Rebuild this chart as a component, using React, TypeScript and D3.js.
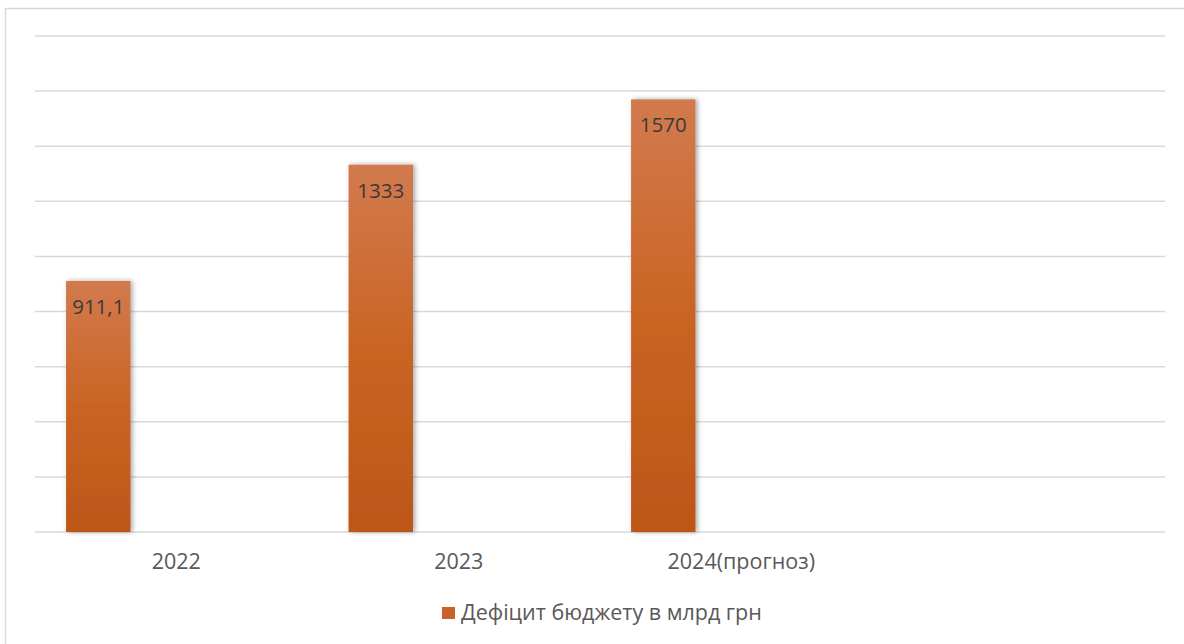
import React from "react";
import * as d3 from "d3";

const categories = ["2022", "2023", "2024(прогноз)", ""];
const values: (number | null)[] = [911.1, 1333, 1570, null];
const valueLabels = ["911,1", "1333", "1570", ""];
const seriesName = "Дефіцит бюджету в млрд грн";
const yTicks = [0, 200, 400, 600, 800, 1000, 1200, 1400, 1600, 1800];

const W = 1184;
const H = 644;
const left = 35;
const right = 1165;
const top = 36;
const bottom = 532;
const FONT = "'Open Sans', sans-serif";

export default function App() {
  const x = d3.scaleBand<string>().domain(categories.map((c, i) => String(i))).range([left, right]).padding(0);
  const y = d3.scaleLinear().domain([0, 1800]).range([bottom, top]);
  const bw = x.bandwidth();
  const barOff = bw * 0.11;
  const barW = bw * 0.228;

  return (
    <svg width={W} height={H} style={{ position: "absolute", left: 0, top: 0, background: "#fff" }}>
      <defs>
        <linearGradient id="barGrad" x1="0" y1="0" x2="0" y2="1">
          <stop offset="0%" stopColor="#d27a4e" />
          <stop offset="50%" stopColor="#c96424" />
          <stop offset="100%" stopColor="#bd5618" />
        </linearGradient>
        <filter id="shadow" x="-30%" y="-10%" width="160%" height="120%">
          <feDropShadow dx="2" dy="0" stdDeviation="2.5" floodColor="#000" floodOpacity="0.35" />
        </filter>
      </defs>
      <rect x={5.5} y={8.5} width={1200} height={700} fill="#fff" stroke="#d9d9d9" strokeWidth={1.5} />
      {yTicks.map((t) => (
        <line key={t} x1={left} x2={right} y1={y(t)} y2={y(t)} stroke="#d9d9d9" strokeWidth={1.5} />
      ))}
      {values.map((v, i) =>
        v == null ? null : (
          <g key={i}>
            <rect
              x={(x(String(i)) as number) + barOff}
              y={y(v)}
              width={barW}
              height={y(0) - y(v)}
              fill="url(#barGrad)"
              filter="url(#shadow)"
            />
            <text
              x={(x(String(i)) as number) + barOff + barW / 2}
              y={y(v) + 33}
              textAnchor="middle"
              fontFamily={FONT}
              fontSize={20.5}
              fill="#3a3a3a"
            >
              {valueLabels[i]}
            </text>
          </g>
        )
      )}
      {categories.map((c, i) => (
        <text
          key={i}
          x={(x(String(i)) as number) + bw / 2}
          y={569}
          textAnchor="middle"
          fontFamily={FONT}
          fontSize={21.5}
          fill="#595959"
        >
          {c}
        </text>
      ))}
      <g>
        <rect x={442} y={607} width={13} height={12} fill="#c9622a" />
        <text x={461} y={620} fontFamily={FONT} fontSize={21.5} fill="#595959">
          {seriesName}
        </text>
      </g>
    </svg>
  );
}
